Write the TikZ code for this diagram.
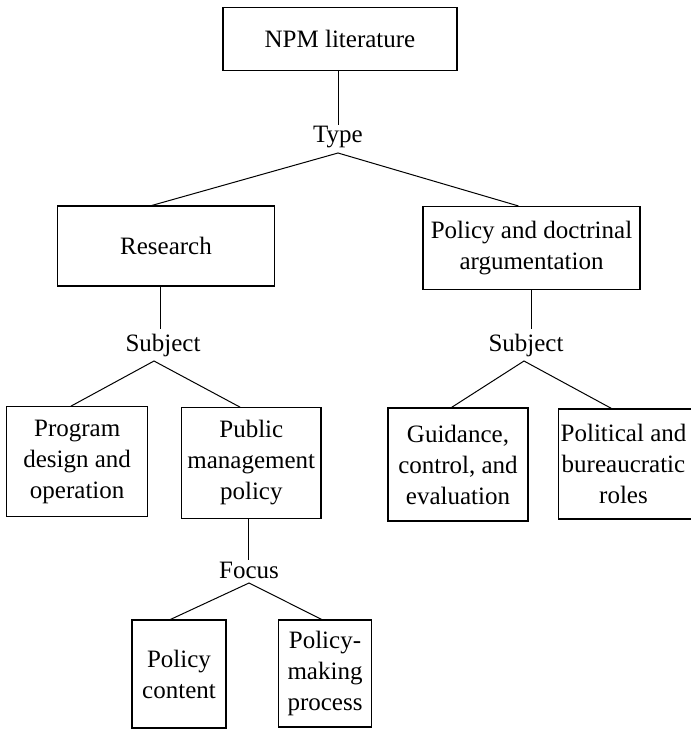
\documentclass[tikz,border=0pt]{standalone}
\usepackage{fontspec}
\setmainfont{Liberation Serif}
\usetikzlibrary{calc}
\begin{document}
\begin{tikzpicture}[x=1pt,y=-1pt,
  box/.style={draw, line width=1.1pt, inner sep=0pt, align=center, font=\fontsize{25}{31}\selectfont},
  txt/.style={inner sep=0pt, align=center, font=\fontsize{25}{31}\selectfont},
  lbl/.style={inner sep=0pt, font=\fontsize{25}{31}\selectfont},
  conn/.style={line width=1pt}]
\useasboundingbox (0,0) rectangle (691,729);
% boxes
\node[box, minimum width=234, minimum height=63] (npm) at (340,39) {NPM literature};
\node[box, minimum width=217, minimum height=80] (res) at (166,246) {Research};
\node[box, minimum width=217, minimum height=83] (pol) at (531.5,248) {Policy and doctrinal\\argumentation};
\node[box, minimum width=141, minimum height=110] (prog) at (77.2,461.7) {Program\\design and\\operation};
\node[box, minimum width=139.3, minimum height=110.6] (pub) at (251.3,463) {Public\\management\\policy};
\node[box, minimum width=140, minimum height=113] (guid) at (458,464.5) {Guidance,\\control, and\\evaluation};
\node[box, minimum width=147, minimum height=110, anchor=west] (polit) at (557.7,464) {};
\node[txt] (politT) at (623.5,464) {Political and\\bureaucratic\\roles};
\node[box, minimum width=94, minimum height=108] (cont) at (179,674) {Policy\\content};
\node[box, minimum width=93.4, minimum height=107] (mak) at (325,673.5) {Policy-\\making\\process};
% labels
\node[lbl] (type) at (338,137) {Type};
\node[lbl] (subjL) at (163,345) {Subject};
\node[lbl] (subjR) at (526,345) {Subject};
\node[lbl] (focus) at (249,570) {Focus};
% connector points
\coordinate (typeTop) at (338,125);
\coordinate (typeApex) at (338,153);
\coordinate (sLtop) at (160,329);
\coordinate (sLapex) at (154,361);
\coordinate (sRtop) at (531,329);
\coordinate (sRapex) at (524,361);
\coordinate (fTop) at (248.5,560);
\coordinate (fApex) at (249,583);
% connectors
\draw[conn] (npm.south -| typeTop) -- (typeTop);
\draw[conn] ($(res.north west)!0.435!(res.north east)$) -- (typeApex) -- ($(pol.north west)!0.44!(pol.north east)$);
\draw[conn] (res.south -| sLtop) -- (sLtop);
\draw[conn] ($(prog.north west)!0.456!(prog.north east)$) -- (sLapex) -- ($(pub.north west)!0.42!(pub.north east)$);
\draw[conn] (pol.south -| sRtop) -- (sRtop);
\draw[conn] ($(guid.north west)!0.454!(guid.north east)$) -- (sRapex) -- ($(polit.north west)!0.363!(polit.north east)$);
\draw[conn] (pub.south -| fTop) -- (fTop);
\draw[conn] ($(cont.north west)!0.41!(cont.north east)$) -- (fApex) -- ($(mak.north west)!0.465!(mak.north east)$);
\end{tikzpicture}
\end{document}
